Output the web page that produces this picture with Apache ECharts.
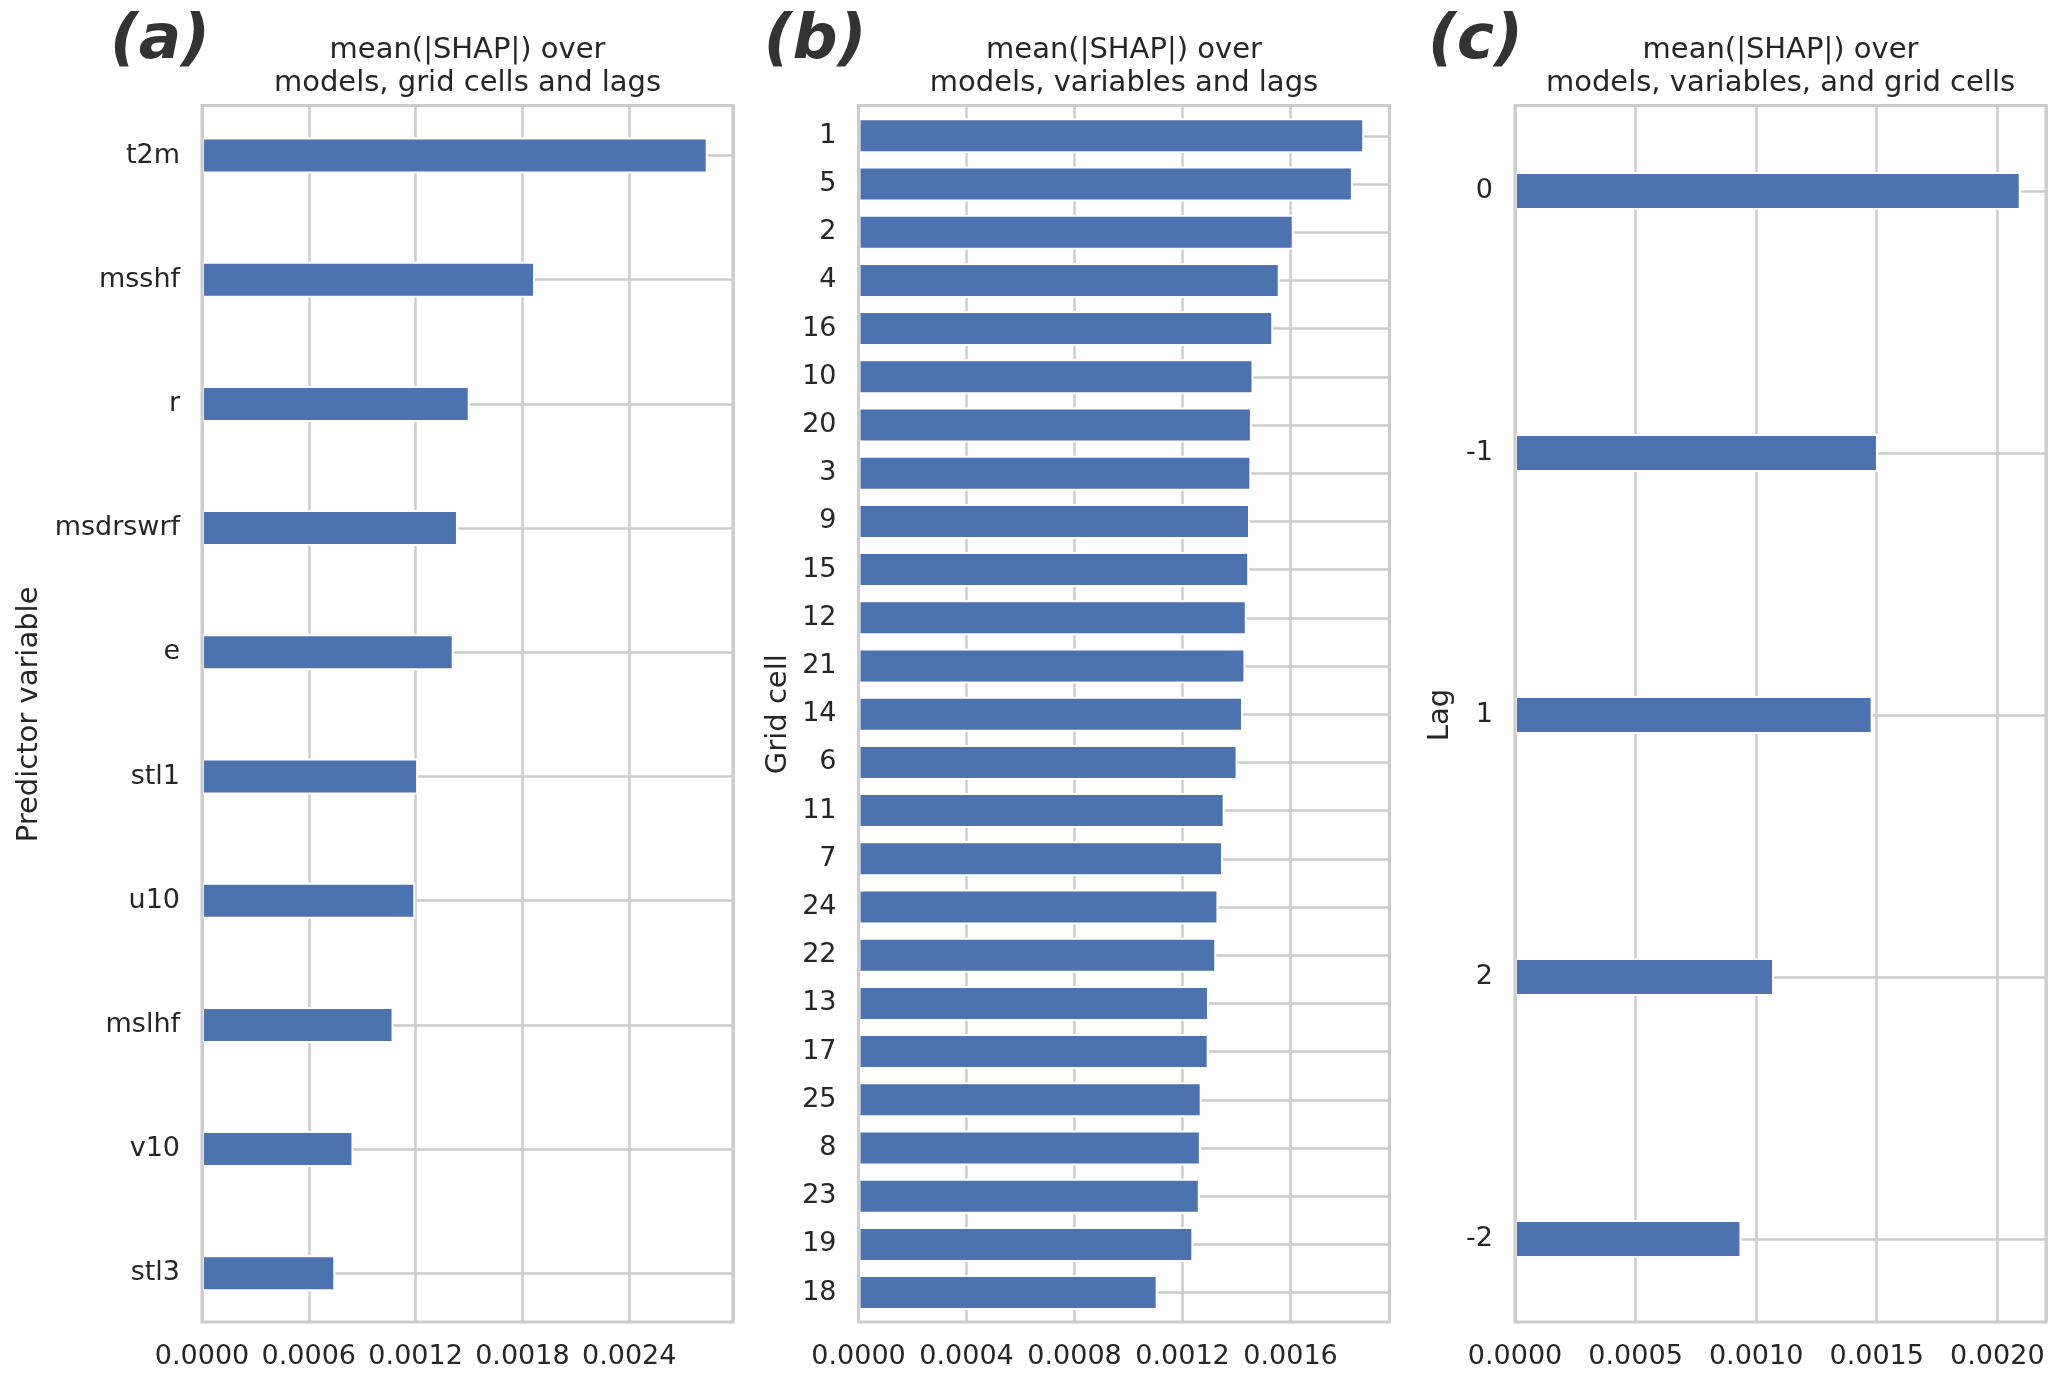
<!DOCTYPE html>
<html><head><meta charset="utf-8">
<script src="https://cdn.jsdelivr.net/npm/echarts@6/dist/echarts.min.js"></script>
<style>html,body{margin:0;padding:0;background:#fff}#c{width:2067px;height:1385px}</style>
</head><body><div id="c"></div>
<script>
// ---- data ----
const varCats = ['t2m','msshf','r','msdrswrf','e','stl1','u10','mslhf','v10','stl3'];
const varVals = [0.002841,0.001871,0.001504,0.001438,0.001414,0.001214,0.001198,0.001076,0.000851,0.000749];
const varStep = 0.0006;

const cellCats = ['1','5','2','4','16','10','20','3','9','15','12','21','14','6','11','7','24','22','13','17','25','8','23','19','18'];
const cellVals = [0.001873,0.001831,0.001612,0.001560,0.001536,0.001463,0.001457,0.001455,0.001450,0.001447,0.001438,0.001433,0.001424,0.001404,0.001356,0.001350,0.001333,0.001325,0.001298,0.001297,0.001271,0.001268,0.001264,0.001240,0.001108];
const cellStep = 0.0004;

const lagCats = ['0','-1','1','2','-2'];
const lagVals = [0.002097,0.001505,0.001483,0.001074,0.000939];
const lagStep = 0.0005;

const titlesText = ['mean(|SHAP|) over\nmodels, grid cells and lags','mean(|SHAP|) over\nmodels, variables and lags','mean(|SHAP|) over\nmodels, variables, and grid cells'];
const axisNames = ['Predictor variable','Grid cell','Lag'];
const letters = ['(a)','(b)','(c)'];

// ---- layout / style ----
const FONT = 'DejaVu Sans';
const TXT = '#262626';
const GRIDC = '#cccccc';
const BAR = '#4c72b0';
const frameTop = 105.5, frameH = 1216.5, W = 531;

const panels = [
  {cats: varCats, vals: varVals, step: varStep, left: 202, dataTop: 93.4, dataH: 1242, barW: 36, nameGap: 158},
  {cats: cellCats, vals: cellVals, step: cellStep, left: 858.5, dataTop: 111.7, dataH: 1205, barW: 35, nameGap: 66},
  {cats: lagCats, vals: lagVals, step: lagStep, left: 1515, dataTop: 60.1, dataH: 1310, barW: 38, nameGap: 60}
];

const grids = [], xAxes = [], yAxes = [], series = [], graphics = [];
panels.forEach((p, i) => {
  const xmax = 1.05 * Math.max(...p.vals);
  const fi = grids.length;
  grids.push({left: p.left, top: frameTop, width: W, height: frameH, show: true,
    borderColor: GRIDC, borderWidth: 3, backgroundColor: 'transparent', z: 3,
    containLabel: false, outerBoundsMode: 'none'});
  xAxes.push({gridIndex: fi, type: 'value', min: 0, max: xmax, interval: p.step,
    axisLine: {show: false}, axisTick: {show: false},
    splitLine: {show: true, lineStyle: {color: GRIDC, width: 2.5}},
    axisLabel: {show: true, showMaxLabel: false, showMinLabel: true,
      formatter: v => v.toFixed(4), color: TXT, fontSize: 27, fontFamily: FONT, margin: 21}});
  yAxes.push({gridIndex: fi, type: 'value', min: 0, max: 1, show: false});

  const di = grids.length;
  grids.push({left: p.left, top: p.dataTop, width: W, height: p.dataH, show: false,
    containLabel: false, outerBoundsMode: 'none'});
  xAxes.push({gridIndex: di, type: 'value', min: 0, max: xmax, show: false, splitLine: {show: false}});
  yAxes.push({gridIndex: di, type: 'category', data: p.cats, inverse: true,
    axisLine: {show: false},
    axisTick: {show: true, inside: true, alignWithLabel: true, interval: 0, length: W,
      lineStyle: {color: GRIDC, width: 2.5}},
    splitLine: {show: false},
    axisLabel: {interval: 0, color: TXT, fontSize: 27, fontFamily: FONT, margin: 22},
    name: axisNames[i], nameLocation: 'middle', nameRotate: 90, nameGap: p.nameGap,
    nameTextStyle: {color: TXT, fontSize: 29, fontFamily: FONT}});
  series.push({type: 'bar', xAxisIndex: di, yAxisIndex: di, data: p.vals, barWidth: p.barW,
    itemStyle: {color: BAR, borderColor: '#ffffff', borderWidth: 2}, silent: true});

  graphics.push({type: 'text', x: p.left + W / 2, y: 34, z: 10,
    style: {text: titlesText[i], fill: TXT, fontSize: 29, fontFamily: FONT,
      align: 'center', verticalAlign: 'top', textAlign: 'center', textVerticalAlign: 'top', lineHeight: 33}});
  graphics.push({type: 'text', x: p.left + 8, y: 42, z: 10,
    style: {text: letters[i], fill: '#333333', fontSize: 63, fontWeight: 'bold', fontStyle: 'italic',
      fontFamily: FONT, align: 'right', verticalAlign: 'middle', textAlign: 'right', textVerticalAlign: 'middle'}});
});

const chart = echarts.init(document.getElementById('c'), null, {renderer: 'canvas', width: 2067, height: 1385});
chart.setOption({
  animation: false,
  backgroundColor: '#ffffff',
  textStyle: {fontFamily: FONT},
  grid: grids, xAxis: xAxes, yAxis: yAxes, series: series, graphic: graphics
});
</script></body></html>
